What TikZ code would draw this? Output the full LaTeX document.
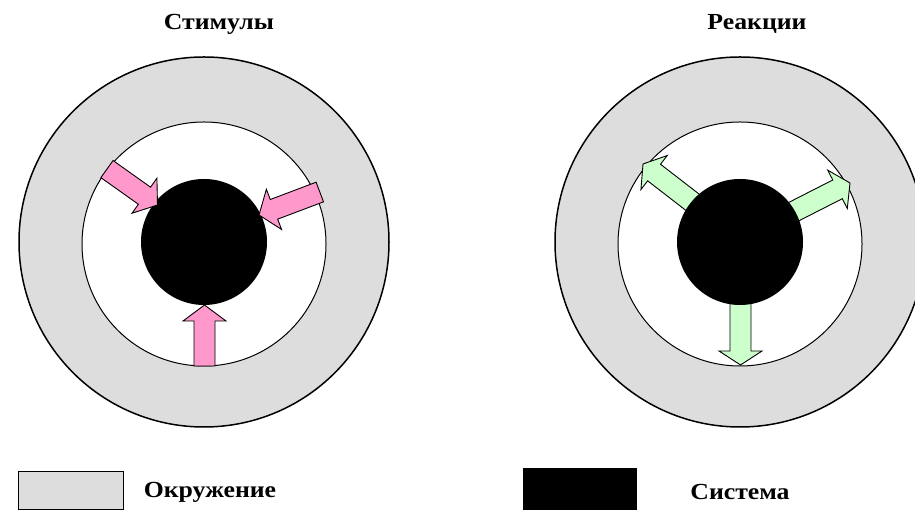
\documentclass[tikz,border=0pt]{standalone}
\usepackage{fontspec}
\setmainfont{Liberation Serif}
\newfontfamily\widebold[FakeStretch=1.12]{Liberation Serif Bold}
\begin{document}
\begin{tikzpicture}[x=1pt,y=1pt,
  ring/.style={draw=black,line width=1.5pt,fill=ringgray},
  hole/.style={draw=black,line width=1pt,fill=white},
  core/.style={fill=black,draw=none},
  pinkarrow/.style={draw=black,line width=0.9pt,fill=stimpink,line join=miter},
  greenarrow/.style={draw=black,line width=0.9pt,fill=reactgreen,line join=miter},
  label/.style={font=\widebold\fontsize{23}{27}\selectfont,inner sep=0pt}]
\definecolor{ringgray}{HTML}{DDDDDD}
\definecolor{stimpink}{HTML}{FF99CC}
\definecolor{reactgreen}{HTML}{CCFFCC}
\useasboundingbox (0,0) rectangle (915,510);
\clip (0,0) rectangle (915,510);
% left diagram
\coordinate (c1) at (204,268);
\node[ring,circle,minimum size=370pt,inner sep=0pt] (outerL) at (c1) {};
\node[hole,circle,minimum size=244pt,inner sep=0pt] (innerL) at (204,266) {};
\node[core,circle,minimum size=126pt,inner sep=0pt] (coreL) at (c1) {};
% block arrows: tip at origin, pointing +x
\newcommand{\myarrow}[5]{% style, tip, angle, length, headlen
  \begin{scope}[shift={#2},rotate=#3]
    \draw[#1] (0,0) -- (-#5,21.5) -- (-#5,10.5) -- (-#4,10.5) -- (-#4,-10.5) -- (-#5,-10.5) -- (-#5,-21.5) -- cycle;
  \end{scope}}
\myarrow{pinkarrow}{(204.5,205)}{90}{61}{16}
\myarrow{pinkarrow}{(157.5,305)}{-35.4}{62}{16}
\myarrow{pinkarrow}{(259,295)}{200.7}{65}{16}
\node[label] (stim) at (219,486) {Стимулы};
% right diagram
\coordinate (c2) at (740,268);
\node[ring,circle,minimum size=370pt,inner sep=0pt] (outerR) at (c2) {};
\node[hole,circle,minimum size=244pt,inner sep=0pt] (innerR) at (740,266) {};
\myarrow{greenarrow}{(740.5,145)}{-90}{70}{14}
\myarrow{greenarrow}{(643,346)}{142.3}{70}{14}
\myarrow{greenarrow}{(850,327)}{27}{70}{14}
\node[core,circle,minimum size=126pt,inner sep=0pt] (coreR) at (c2) {};
\node[label] (react) at (757,486) {Реакции};
% legend
\node[draw=black,line width=1pt,fill=ringgray,minimum width=105pt,minimum height=38pt,inner sep=0pt,anchor=south west] (legL) at (18,0) {};
\node[label] (envtext) at (210,18) {Окружение};
\node[fill=black,minimum width=114pt,minimum height=42pt,inner sep=0pt,anchor=south west] (legR) at (523,0) {};
\node[label] (systext) at (740,18) {Система};
\end{tikzpicture}
\end{document}
